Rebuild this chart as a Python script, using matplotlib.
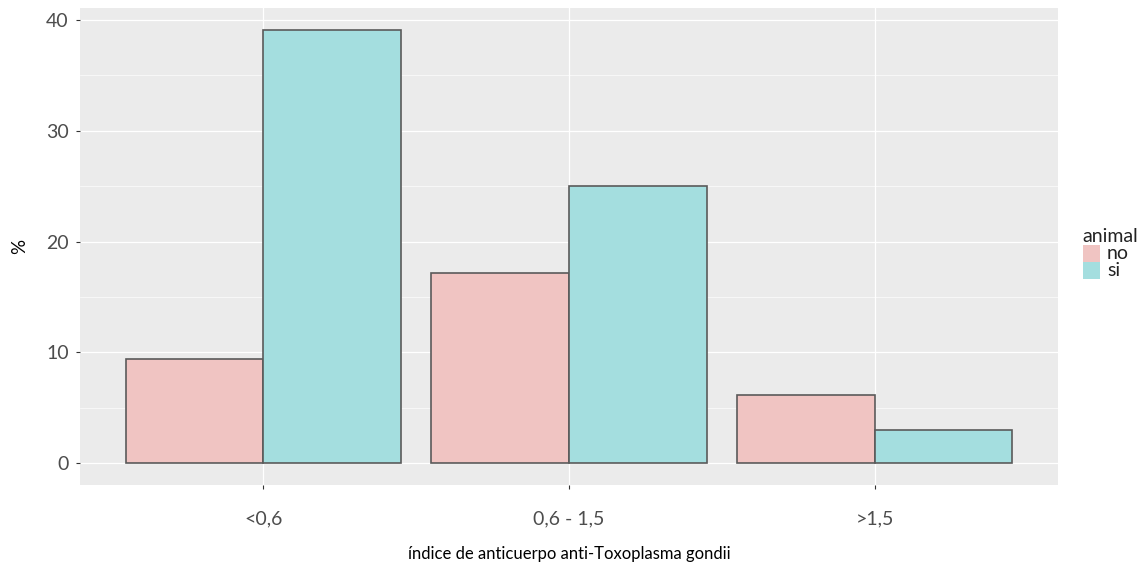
import matplotlib
matplotlib.use("Agg")
import matplotlib.pyplot as plt
import numpy as np
from matplotlib.patches import Rectangle

categories = ["<0,6", "0,6 - 1,5", ">1,5"]
groups = ["no", "si"]
values_no = [9.4, 17.2, 6.2]
values_si = [39.1, 25.0, 3.0]
y_ticks = [0, 10, 20, 30, 40]

fill_colors = {"no": "#F0C4C2", "si": "#A4DEDF"}
edge = "#5a5a5a"

plt.rcParams['font.family'] = ['Lato', 'DejaVu Sans']

W, H = 1138, 574
fig = plt.figure(figsize=(W / 100, H / 100), dpi=100)
ax = fig.add_axes([80 / W, 1 - 485 / H, (1058 - 80) / W, (485 - 8) / H])
ax.set_facecolor("#EBEBEB")

x = np.arange(1, len(categories) + 1)
bw = 0.45
ax.bar(x - bw / 2, values_no, width=bw, color=fill_colors["no"], edgecolor=edge, linewidth=1.2, zorder=3)
ax.bar(x + bw / 2, values_si, width=bw, color=fill_colors["si"], edgecolor=edge, linewidth=1.2, zorder=3)

ymax = max(max(values_no), max(values_si))
ax.set_ylim(-0.05 * ymax, ymax * 1.05)
ax.set_xlim(0.4, 3.6)
ax.set_xticks(x)
ax.set_xticklabels(categories)
ax.set_yticks(y_ticks)
ax.set_yticks([5, 15, 25, 35], minor=True)
ax.grid(True, which="major", color="white", linewidth=0.9, zorder=0)
ax.grid(True, which="minor", axis="y", color="white", linewidth=0.45, zorder=0)
ax.set_axisbelow(True)
for s in ax.spines.values():
    s.set_visible(False)
ax.tick_params(axis="both", which="major", length=3, width=0.8, color="#333333",
               labelsize=14, labelcolor="#4D4D4D", pad=5)
ax.tick_params(axis="both", which="minor", length=0)
ax.tick_params(axis="x", pad=15)

ax.set_ylabel("%", fontsize=13.5, labelpad=13)
ax.set_xlabel("índice de anticuerpo anti-Toxoplasma gondii", fontsize=12, labelpad=14)

# legend (partly clipped at the right edge, as in the reference)
fig.text(1082 / W, 1 - 237 / H, "animal", fontsize=14, va="center", ha="left", color="#222222")
for i, g in enumerate(groups):
    y0 = 245 + i * 17
    fig.patches.append(Rectangle((1083 / W, 1 - (y0 + 17) / H), 17 / W, 17 / H,
                                 transform=fig.transFigure, facecolor=fill_colors[g],
                                 edgecolor="none"))
    fig.text(1107 / W, 1 - (y0 + 8.5) / H, g, fontsize=14, va="center", ha="left", color="#222222")

fig.savefig("out.png", dpi=100)
